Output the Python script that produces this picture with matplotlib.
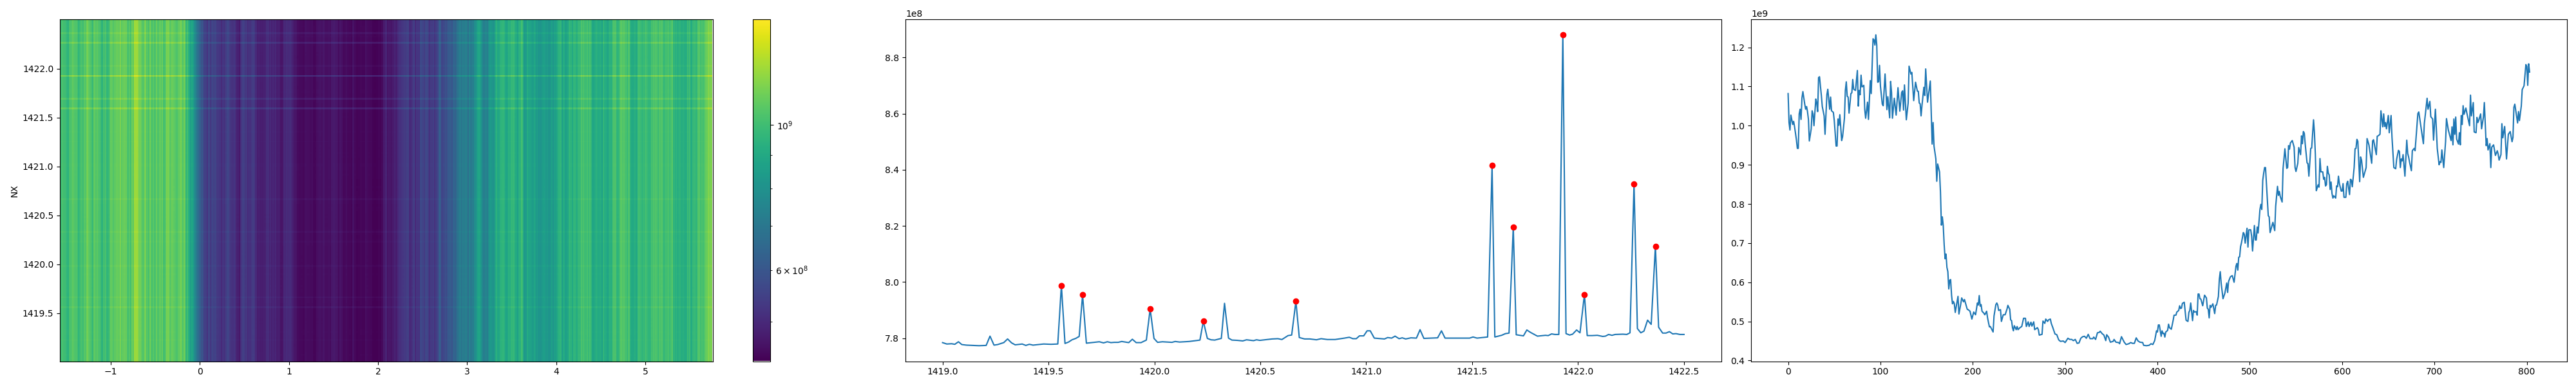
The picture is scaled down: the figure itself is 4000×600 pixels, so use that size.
"""
waterfall with its two mean profiles: per row (with peaks) and per column.
values read off the reference by eye.
"""
import matplotlib
matplotlib.use("Agg")
import matplotlib.pyplot as plt
import numpy as np
from matplotlib.colors import LogNorm

# mean per row, units of 1e8
row_x = [
    1419.0, 1419.02, 1419.043, 1419.058, 1419.075, 1419.091, 1419.113, 1419.144, 1419.172, 1419.206,
    1419.224, 1419.243, 1419.26, 1419.289, 1419.307, 1419.326, 1419.343, 1419.376, 1419.393, 1419.41,
    1419.427, 1419.477, 1419.512, 1419.544, 1419.561, 1419.578, 1419.595, 1419.611, 1419.629, 1419.645,
    1419.661, 1419.679, 1419.74, 1419.76, 1419.778, 1419.795, 1419.811, 1419.829, 1419.846, 1419.879,
    1419.896, 1419.914, 1419.937, 1419.962, 1419.98, 1419.998, 1420.015, 1420.038, 1420.083, 1420.098,
    1420.119, 1420.139, 1420.164, 1420.215, 1420.231, 1420.25, 1420.267, 1420.285, 1420.316, 1420.331,
    1420.35, 1420.366, 1420.392, 1420.417, 1420.435, 1420.468, 1420.482, 1420.498, 1420.533, 1420.556,
    1420.583, 1420.602, 1420.631, 1420.648, 1420.668, 1420.684, 1420.709, 1420.734, 1420.765, 1420.787,
    1420.816, 1420.853, 1420.897, 1420.92, 1420.937, 1420.953, 1420.968, 1420.988, 1421.004, 1421.019,
    1421.038, 1421.086, 1421.101, 1421.12, 1421.136, 1421.155, 1421.17, 1421.186, 1421.211, 1421.237,
    1421.254, 1421.272, 1421.337, 1421.355, 1421.372, 1421.438, 1421.488, 1421.504, 1421.523, 1421.573,
    1421.594, 1421.607, 1421.639, 1421.657, 1421.674, 1421.694, 1421.708, 1421.742, 1421.758, 1421.774,
    1421.808, 1421.846, 1421.859, 1421.875, 1421.89, 1421.909, 1421.928, 1421.943, 1421.96, 1421.974,
    1421.993, 1422.009, 1422.03, 1422.043, 1422.066, 1422.091, 1422.116, 1422.129, 1422.144, 1422.16,
    1422.175, 1422.211, 1422.23, 1422.245, 1422.264, 1422.28, 1422.296, 1422.311, 1422.328, 1422.345,
    1422.365, 1422.38, 1422.399, 1422.415, 1422.431, 1422.447, 1422.462, 1422.481, 1422.5,
]
row_vals = [
    7.784, 7.779, 7.780, 7.778, 7.787, 7.777, 7.775, 7.774, 7.773, 7.774,
    7.807, 7.775, 7.777, 7.784, 7.797, 7.783, 7.776, 7.779, 7.774, 7.778,
    7.775, 7.779, 7.778, 7.779, 7.988, 7.781, 7.786, 7.794, 7.799, 7.806,
    7.954, 7.782, 7.787, 7.783, 7.787, 7.784, 7.785, 7.785, 7.788, 7.784,
    7.796, 7.784, 7.784, 7.793, 7.904, 7.799, 7.785, 7.787, 7.785, 7.788,
    7.786, 7.787, 7.788, 7.793, 7.860, 7.799, 7.794, 7.793, 7.799, 7.924,
    7.800, 7.793, 7.792, 7.790, 7.794, 7.791, 7.794, 7.792, 7.795, 7.797,
    7.798, 7.795, 7.809, 7.811, 7.931, 7.802, 7.797, 7.797, 7.794, 7.798,
    7.795, 7.795, 7.800, 7.803, 7.798, 7.798, 7.808, 7.808, 7.826, 7.826,
    7.800, 7.797, 7.802, 7.800, 7.807, 7.798, 7.801, 7.797, 7.801, 7.800,
    7.830, 7.799, 7.801, 7.826, 7.800, 7.800, 7.800, 7.804, 7.800, 7.804,
    8.415, 7.804, 7.810, 7.816, 7.818, 8.195, 7.812, 7.808, 7.829, 7.821,
    7.807, 7.810, 7.809, 7.815, 7.813, 7.813, 8.881, 7.816, 7.811, 7.814,
    7.829, 7.819, 7.956, 7.809, 7.809, 7.810, 7.806, 7.807, 7.813, 7.810,
    7.813, 7.814, 7.813, 7.819, 8.349, 7.834, 7.819, 7.825, 7.864, 7.849,
    8.127, 7.839, 7.818, 7.818, 7.823, 7.815, 7.816, 7.813, 7.813,
]

peak_x = [1419.561, 1419.661, 1419.98, 1420.231, 1420.668, 1421.594, 1421.694, 1421.928, 1422.03, 1422.264, 1422.365]
peak_vals = [7.988, 7.954, 7.904, 7.860, 7.931, 8.415, 8.195, 8.881, 7.956, 8.349, 8.127]

# mean per column, units of 1e9
col_idx = [
    0, 1, 2, 3, 5, 6, 7, 9, 10, 11, 12, 13, 14, 15, 16,
    18, 19, 20, 21, 22, 23, 25, 26, 27, 28, 30, 31, 32, 33, 34,
    36, 37, 39, 40, 42, 43, 45, 46, 47, 49, 50, 52, 53, 54, 55,
    56, 58, 59, 61, 62, 63, 64, 65, 66, 68, 69, 70, 71, 73, 75,
    76, 77, 78, 79, 80, 82, 83, 84, 86, 87, 89, 90, 92, 93, 94,
    95, 96, 97, 98, 99, 100, 102, 103, 105, 107, 108, 110, 111, 112, 113,
    115, 117, 119, 121, 123, 124, 125, 126, 128, 130, 131, 133, 134, 136, 138,
    140, 141, 142, 143, 144, 145, 147, 148, 149, 151, 153, 154, 156, 157, 158,
    160, 161, 162, 164, 165, 166, 167, 168, 169, 170, 171, 172, 173, 174, 175,
    176, 177, 178, 179, 180, 181, 184, 185, 187, 188, 190, 191, 194, 195, 197,
    199, 201, 203, 205, 206, 207, 208, 209, 210, 212, 213, 215, 216, 218, 219,
    222, 223, 225, 226, 227, 228, 230, 231, 233, 235, 237, 238, 240, 241, 242,
    243, 244, 245, 247, 248, 249, 251, 253, 255, 257, 258, 260, 261, 263, 264,
    266, 267, 270, 271, 272, 275, 276, 278, 279, 281, 282, 284, 285, 287, 289,
    291, 293, 295, 298, 300, 303, 305, 307, 309, 311, 313, 315, 317, 319, 321,
    323, 325, 327, 330, 331, 333, 335, 337, 338, 340, 342, 344, 345, 347, 349,
    352, 353, 355, 358, 359, 361, 364, 366, 369, 371, 373, 375, 377, 379, 381,
    384, 385, 388, 391, 393, 395, 397, 399, 400, 401, 402, 404, 405, 406, 407,
    408, 409, 411, 412, 413, 415, 417, 418, 420, 421, 423, 424, 425, 426, 427,
    429, 431, 433, 434, 435, 436, 438, 439, 440, 442, 443, 444, 445, 446, 447,
    449, 451, 453, 454, 455, 456, 457, 458, 460, 462, 463, 464, 466, 467, 468,
    469, 471, 473, 475, 476, 477, 479, 481, 483, 485, 486, 487, 488, 489, 490,
    491, 493, 494, 495, 497, 498, 499, 501, 502, 503, 505, 506, 507, 508, 509,
    511, 512, 513, 514, 515, 516, 517, 518, 519, 520, 521, 522, 525, 527, 528,
    530, 531, 532, 533, 535, 536, 538, 540, 541, 542, 543, 544, 546, 548, 549,
    550, 552, 553, 555, 556, 557, 558, 559, 560, 562, 563, 564, 566, 567, 569,
    570, 571, 572, 573, 574, 575, 576, 577, 579, 580, 581, 582, 583, 584, 585,
    586, 587, 588, 589, 590, 591, 593, 594, 595, 596, 597, 599, 600, 601, 602,
    604, 605, 606, 608, 609, 610, 611, 613, 614, 615, 616, 617, 619, 620, 621,
    623, 625, 626, 627, 629, 632, 633, 634, 637, 638, 639, 641, 642, 644, 645,
    646, 647, 648, 650, 651, 653, 654, 656, 658, 659, 661, 662, 663, 664, 665,
    666, 668, 670, 671, 672, 673, 675, 676, 678, 679, 682, 683, 688, 689, 692,
    693, 695, 696, 698, 699, 701, 703, 705, 706, 707, 708, 710, 712, 713, 715,
    718, 719, 720, 721, 722, 723, 724, 726, 727, 728, 729, 730, 731, 732, 734,
    735, 738, 739, 740, 742, 743, 745, 746, 747, 748, 750, 751, 753, 754, 756,
    757, 758, 760, 761, 762, 764, 766, 768, 769, 770, 772, 773, 774, 776, 778,
    780, 782, 784, 785, 786, 787, 790, 791, 792, 794, 795, 797, 799, 800, 801,
    802, 803,
]
col_vals = [
    1.082, 1.008, .989, 1.027, 1.003, 1.011, .997, .964, .942, .942, 1.030, 1.042, 1.016, 1.071, 1.087,
    1.055, 1.042, 1.049, 1.036, 1.016, .961, .992, 1.038, 1.030, 1.000, 1.068, 1.058, 1.036, 1.123, 1.125,
    1.077, 1.049, 1.025, .978, 1.079, 1.093, 1.042, 1.073, 1.038, 1.034, 1.013, .948, .948, 1.017, 1.001,
    1.028, .962, .972, 1.019, 1.090, 1.112, 1.075, 1.073, 1.032, 1.082, 1.084, 1.118, 1.093, 1.090, 1.141,
    1.050, 1.090, 1.079, 1.129, 1.099, 1.103, 1.041, 1.019, 1.060, 1.016, 1.115, 1.082, 1.222, 1.219, 1.206,
    1.232, 1.206, 1.111, 1.112, 1.154, 1.101, 1.055, 1.051, 1.132, 1.041, 1.074, 1.020, 1.113, 1.085, 1.019,
    1.070, 1.027, 1.097, 1.037, 1.085, 1.089, 1.040, 1.104, 1.015, 1.058, 1.152, 1.132, 1.136, 1.064, 1.111,
    1.088, 1.088, 1.058, 1.056, 1.025, 1.052, 1.098, 1.077, 1.145, 1.060, 1.096, 1.114, .953, 1.008, .948,
    .915, .858, .902, .882, .830, .746, .767, .745, .696, .660, .672, .638, .627, .583, .605,
    .607, .567, .545, .551, .545, .523, .564, .519, .545, .560, .550, .556, .531, .530, .526,
    .506, .524, .517, .547, .542, .566, .539, .543, .526, .521, .517, .526, .509, .486, .487,
    .473, .514, .543, .547, .542, .528, .530, .500, .517, .517, .531, .541, .531, .504, .502,
    .484, .476, .489, .479, .487, .479, .484, .487, .508, .508, .487, .499, .487, .498, .488,
    .499, .479, .484, .479, .465, .467, .501, .495, .506, .500, .504, .506, .495, .482, .468,
    .466, .453, .449, .450, .446, .457, .454, .454, .451, .454, .444, .445, .457, .461, .462,
    .457, .467, .456, .456, .460, .454, .471, .472, .475, .469, .465, .451, .466, .460, .447,
    .449, .454, .447, .446, .443, .461, .447, .441, .443, .446, .444, .444, .458, .450, .447,
    .446, .439, .438, .439, .443, .441, .451, .476, .473, .491, .491, .462, .476, .469, .470,
    .460, .473, .477, .493, .484, .480, .503, .516, .516, .524, .528, .540, .533, .534, .546,
    .549, .503, .500, .523, .528, .547, .502, .528, .524, .525, .516, .570, .570, .558, .557,
    .540, .567, .560, .534, .531, .509, .541, .536, .545, .520, .541, .542, .564, .608, .627,
    .597, .558, .572, .598, .574, .602, .614, .617, .600, .641, .648, .631, .664, .665, .691,
    .701, .727, .723, .700, .738, .690, .734, .734, .717, .680, .745, .708, .708, .741, .726,
    .786, .799, .786, .860, .878, .893, .893, .852, .810, .770, .767, .727, .753, .732, .794,
    .845, .822, .832, .819, .805, .890, .941, .891, .893, .949, .940, .956, .962, .945, .893,
    .883, .904, .944, .926, .974, .954, .985, .981, .953, .905, .903, .871, .942, .943, 1.015,
    .981, .926, .834, .841, .849, .843, .916, .882, .882, .863, .868, .846, .849, .896, .879,
    .874, .837, .856, .827, .815, .821, .815, .846, .844, .871, .852, .833, .833, .852, .817,
    .817, .852, .858, .824, .863, .861, .844, .893, .941, .942, .965, .960, .857, .920, .912,
    .868, .885, .893, .967, .951, .904, .961, .964, .926, .973, .974, .978, 1.038, .997, 1.030,
    .998, 1.008, .992, 1.026, .982, 1.026, .970, .893, .890, .914, .937, .934, .893, .915, .910,
    .926, .871, .963, .929, .920, .907, .885, .936, .942, .936, 1.031, 1.035, .954, 1.005, 1.070,
    1.042, 1.062, 1.023, 1.017, .963, 1.042, .942, .900, .908, .906, .938, .893, .959, 1.018, .989,
    .962, .997, .951, 1.017, .978, 1.022, .966, .953, .982, .951, 1.026, 1.003, 1.051, 1.029, 1.045,
    1.033, 1.000, 1.078, 1.025, 1.059, .984, .982, 1.021, 1.008, 1.014, 1.030, .992, 1.022, 1.059, .949,
    .967, .938, .954, .893, .945, .951, .924, .936, .927, .912, .926, 1.005, .969, .998, .915,
    .978, .985, .959, .970, 1.047, 1.055, 1.007, 1.036, 1.013, 1.050, 1.092, 1.102, 1.156, 1.151, 1.103,
    1.158, 1.137,
]

img_yticks = [1419.5, 1420.0, 1420.5, 1421.0, 1421.5, 1422.0]

PHASE_MIN, PHASE_MAX = -1.571, 5.756
N_COLS = 804
ROW_REF = 7.83  # typical row level, scales the image back to column units
IMG_VMIN, IMG_VMAX = 4.35e8, 1.45e9
W, H = 4000, 600


def _edges(x):
    x = np.asarray(x, dtype=float)
    mid = (x[:-1] + x[1:]) / 2
    return np.concatenate([[x[0] - (mid[0] - x[0])], mid, [x[-1] + (x[-1] - mid[-1])]])


def _axes(fig, left, right, top=30, bottom=561.5):
    return fig.add_axes([left / W, 1 - bottom / H, (right - left) / W, (bottom - top) / H])


rows = np.array(row_vals) * 1e8
cols = np.array(col_vals) * 1e9
phase = PHASE_MIN + np.array(col_idx, dtype=float) * (PHASE_MAX - PHASE_MIN) / N_COLS
image = np.outer(rows / (ROW_REF * 1e8), cols)

fig = plt.figure(figsize=(40, 6), dpi=100)

ax_img = _axes(fig, 93, 1106.5)
mesh = ax_img.pcolormesh(_edges(phase), _edges(row_x), image, cmap="viridis",
                         norm=LogNorm(vmin=IMG_VMIN, vmax=IMG_VMAX), shading="flat")
ax_img.set_xlim(PHASE_MIN, PHASE_MAX)
ax_img.set_ylim(1419.008, 1422.505)
ax_img.set_yticks(img_yticks)
ax_img.set_ylabel("NX")

cax = _axes(fig, 1169, 1196)
fig.colorbar(mesh, cax=cax)

ax_rows = _axes(fig, 1406, 2672.5)
ax_rows.plot(row_x, rows)
ax_rows.plot(peak_x, np.array(peak_vals) * 1e8, "ro")

ax_cols = _axes(fig, 2719, 3985.5)
ax_cols.plot(col_idx, cols)

fig.savefig("out.png", dpi=100)
